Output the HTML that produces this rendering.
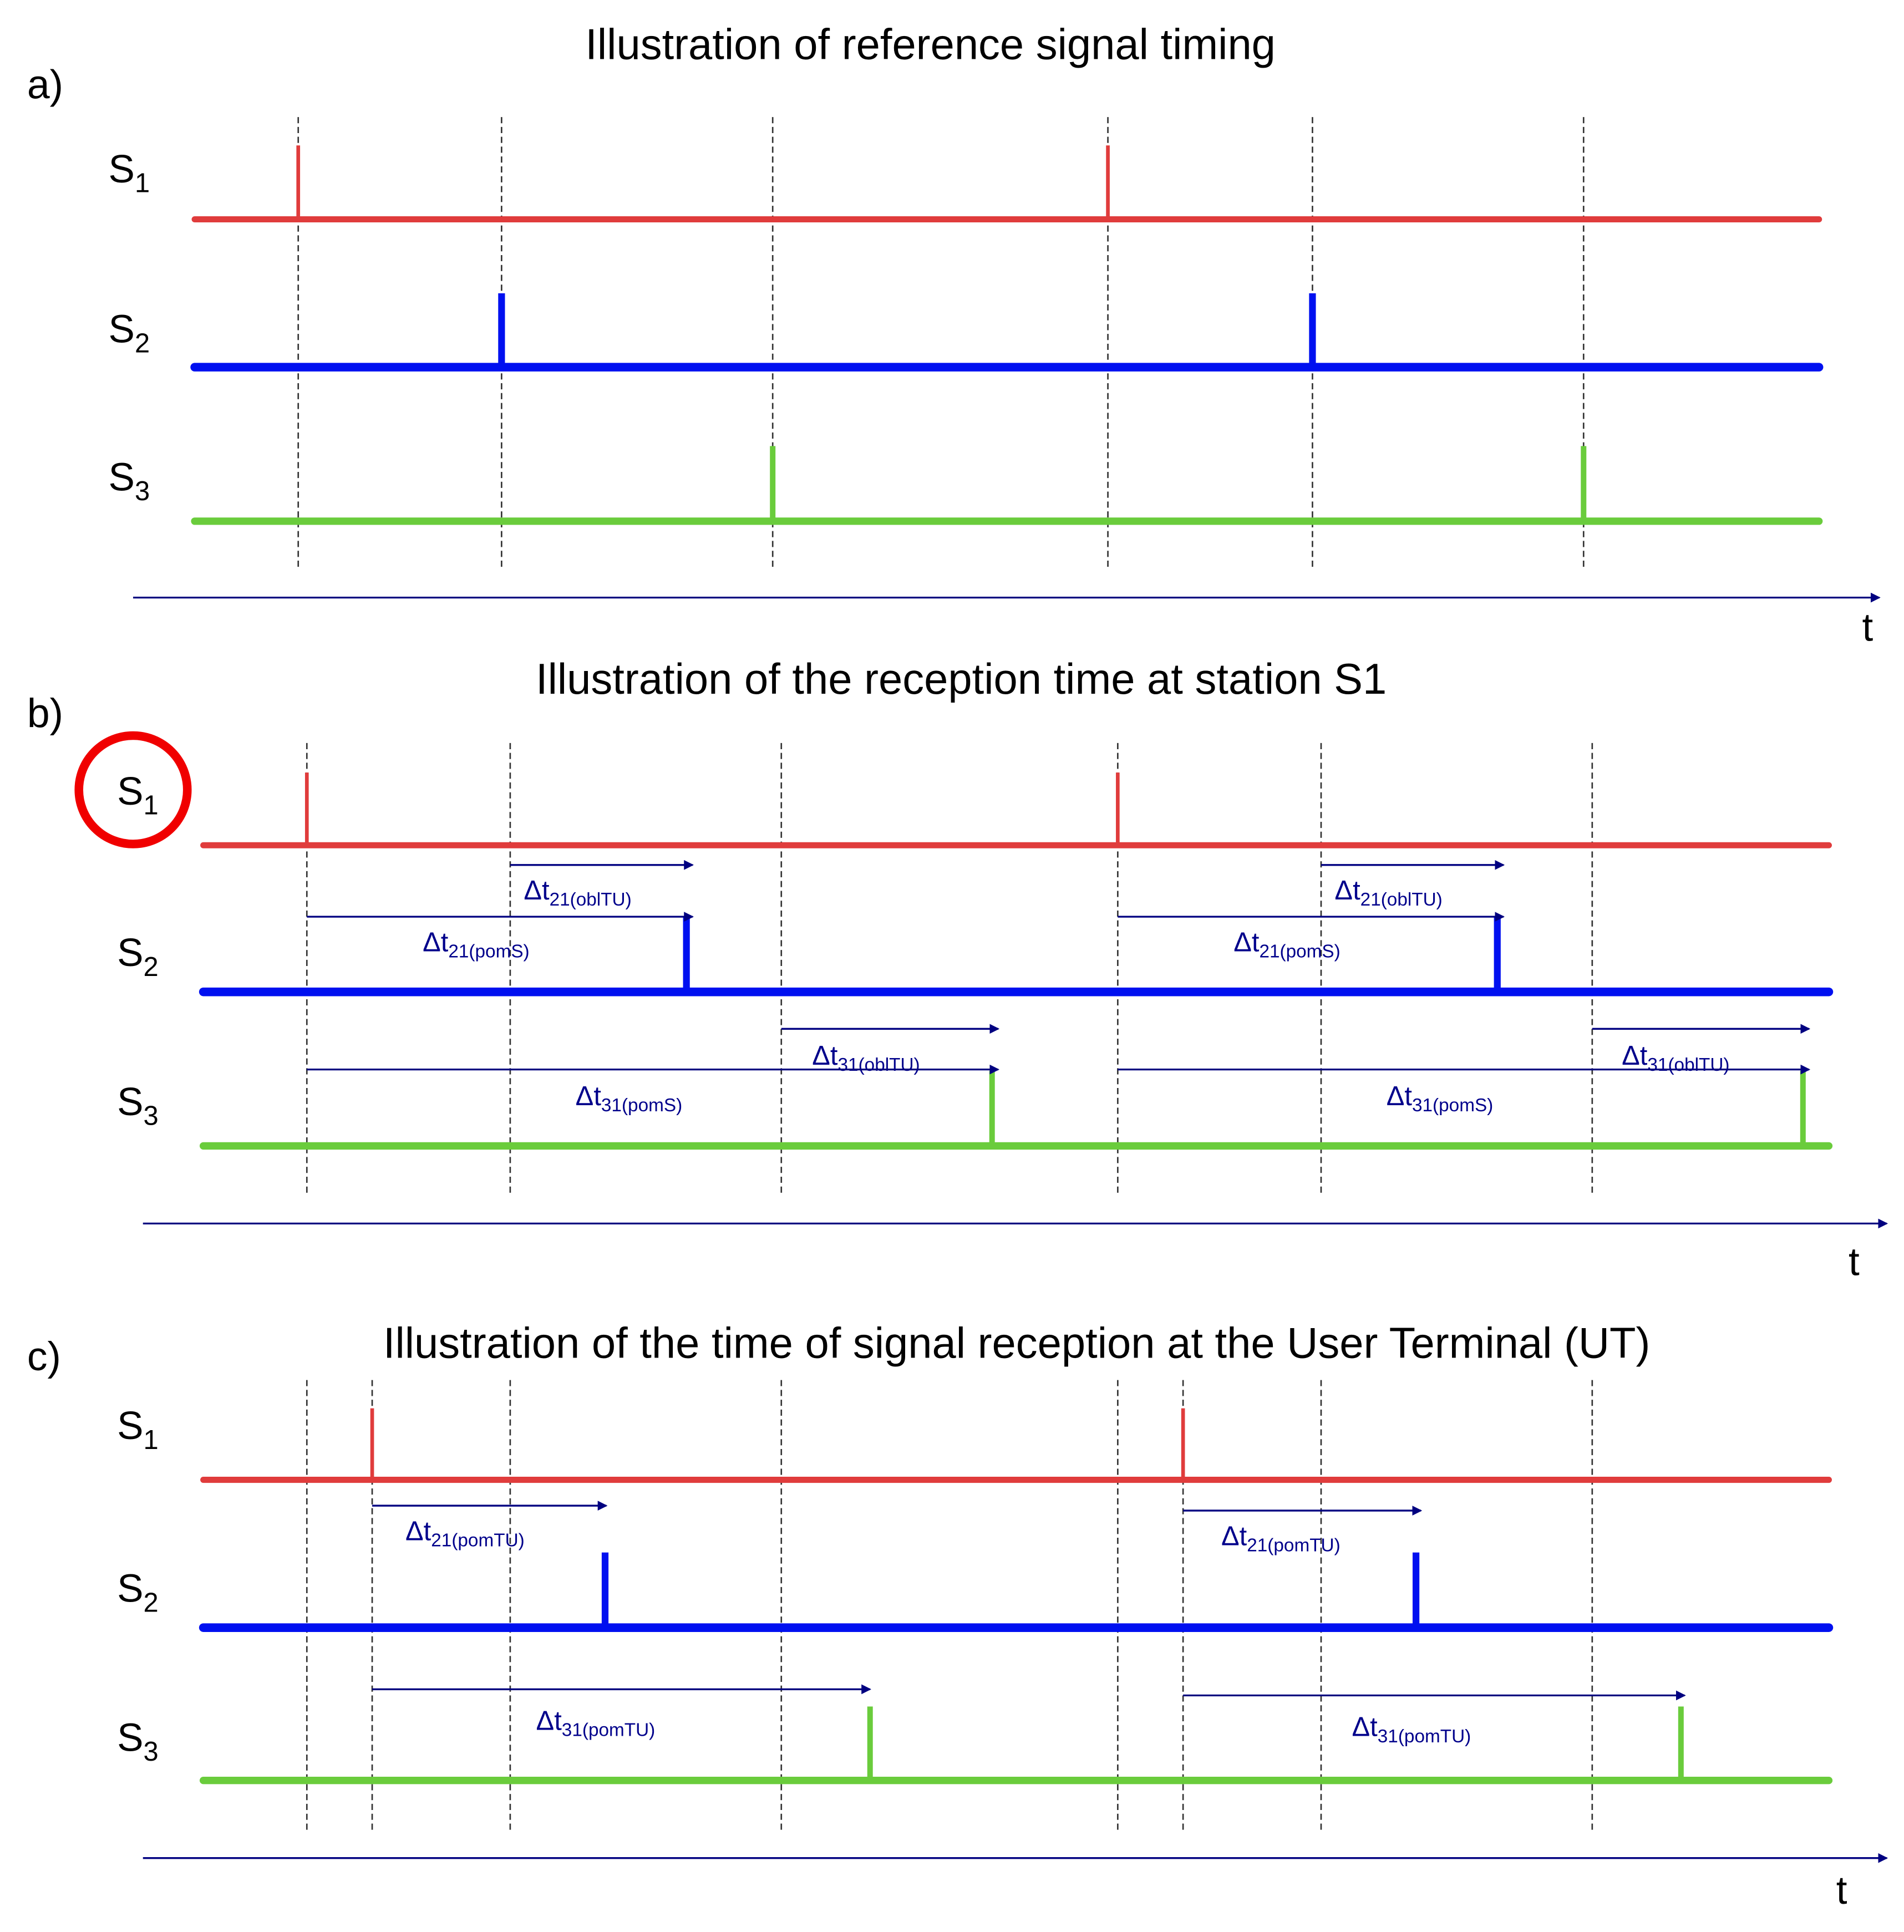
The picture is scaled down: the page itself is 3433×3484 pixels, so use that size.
<!DOCTYPE html>
<html><head><meta charset="utf-8"><style>
html,body{margin:0;padding:0;background:#fff;}
svg{display:block;font-family:"Liberation Sans",Arial,sans-serif;}
</style></head><body>
<svg id="chart" width="3433" height="3484" viewBox="0 0 1545 1568" preserveAspectRatio="none" xmlns="http://www.w3.org/2000/svg">
<defs><marker id="ah" markerWidth="8" markerHeight="8" refX="7" refY="4" orient="auto" markerUnits="userSpaceOnUse"><path d="M0,0 L8,4 L0,8 z" fill="#000080"/></marker></defs>
</svg>
<script>
// panel data
const panelTitles = ["Illustration of reference signal timing","Illustration of the reception time at station S1","Illustration of the time of signal reception at the User Terminal (UT)"];
const panelLetters = ["a)","b)","c)"];
const dashA = [242,407,627,899,1065,1285];
const dashB = [249,414,634,907,1072,1292];
const dashC = [249,302,414,634,907,960,1072,1292];
const pulsesA = [[242,899],[407,1065],[627,1285]];
const pulsesB = [[249,907],[557,1215],[805,1463]];
const pulsesC = [[302,960],[491,1149],[706,1364]];
// arrows: [x0,x1,y,sub,labelX,labelY]
const arrowsB = [[414,562,702,"21(oblTU)",425,730],[249,562,744,"21(pomS)",343,772],[1072,1220,702,"21(oblTU)",1083,730],[907,1220,744,"21(pomS)",1001,772],
[634,810,835,"31(oblTU)",659,864],[249,810,868,"31(pomS)",467,897],[1292,1468,835,"31(oblTU)",1316,864],[907,1468,868,"31(pomS)",1125,897]];
const arrowsC = [[302,492,1222,"21(pomTU)",329,1250],[960,1153,1226,"21(pomTU)",991,1254],[302,706,1371,"31(pomTU)",435,1404],[960,1367,1376,"31(pomTU)",1097,1409]];

const svg=document.getElementById('chart');
const NS="http://www.w3.org/2000/svg";
function mk(tag,attrs){const e=document.createElementNS(NS,tag);for(const k in attrs)e.setAttribute(k,attrs[k]);svg.appendChild(e);return e;}
const colors=["#e03c3c","#0010f0","#6acc3c"];
const widths=[5,7,6], pw=[3,5.5,4.5];
const panels=[
 {title:755,ty:48,lx:22,ly:80,dash:dashA,d0:95,d1:463,x0:158,x1:1476,ys:[178,298,423],pul:pulsesA,ph:[60,60,61],labx:88,laby:[148,278,398],axy:485,ax0:108,ax1:1525,tx:1511,tyy:520,arrows:[]},
 {title:780,ty:563,lx:22,ly:590,dash:dashB,d0:603,d1:970,x0:165,x1:1484,ys:[686,805,930],pul:pulsesB,ph:[59,61,61],labx:95,laby:[653,784,905],axy:993,ax0:116,ax1:1531,tx:1500,tyy:1035,arrows:arrowsB},
 {title:825,ty:1102,lx:22,ly:1112,dash:dashC,d0:1120,d1:1487,x0:165,x1:1484,ys:[1201,1321,1445],pul:pulsesC,ph:[58,61,60],labx:95,laby:[1168,1300,1421],axy:1508,ax0:116,ax1:1531,tx:1490,tyy:1545,arrows:arrowsC}
];
panels.forEach((p,i)=>{
 let t=mk('text',{x:p.title,y:p.ty,'text-anchor':'middle','font-size':35,fill:'#000'});t.textContent=panelTitles[i];
 
 
 let l=mk('text',{x:p.lx,y:p.ly,'font-size':33,fill:'#000'});l.textContent=panelLetters[i];
 
 
 p.dash.forEach(x=>{const d=mk('line',{x1:x,x2:x,y1:p.d0,y2:p.d1,stroke:'#333','stroke-width':1.2,'stroke-dasharray':'5,3'});
  
  });
 p.ys.forEach((y,s)=>{
  const ln=mk('line',{x1:p.x0,x2:p.x1,y1:y,y2:y,stroke:colors[s],'stroke-width':widths[s],'stroke-linecap':'round'});
  
  
  p.pul[s].forEach(x=>{const pu=mk('line',{x1:x,x2:x,y1:y-p.ph[s],y2:y,stroke:colors[s],'stroke-width':pw[s]});
   
   });
  const tx=mk('text',{x:p.labx,y:p.laby[s],'font-size':32,fill:'#000'});
  tx.innerHTML='S<tspan font-size="22" dy="8">'+(s+1)+'</tspan>';
  
  
 });
 const ax=mk('line',{x1:p.ax0,x2:p.ax1,y1:p.axy,y2:p.axy,stroke:'#000080','stroke-width':1.5,'marker-end':'url(#ah)'});
 
 
 const tt=mk('text',{x:p.tx,y:p.tyy,'font-size':32,fill:'#000'});tt.textContent='t';
 
 
 p.arrows.forEach(a=>{
  const ar=mk('line',{x1:a[0],x2:a[1],y1:a[2],y2:a[2],stroke:'#000080','stroke-width':1.5,'marker-end':'url(#ah)'});
  
  
  const lt=mk('text',{x:a[4],y:a[5],'font-size':22,fill:'#00008b'});
  lt.innerHTML='Δt<tspan font-size="15" dy="5">'+a[3]+'</tspan>';
  
  
 });
});
const c=mk('circle',{cx:108,cy:641,r:44,fill:'none',stroke:'#f00000','stroke-width':7});


</script>
</body></html>
